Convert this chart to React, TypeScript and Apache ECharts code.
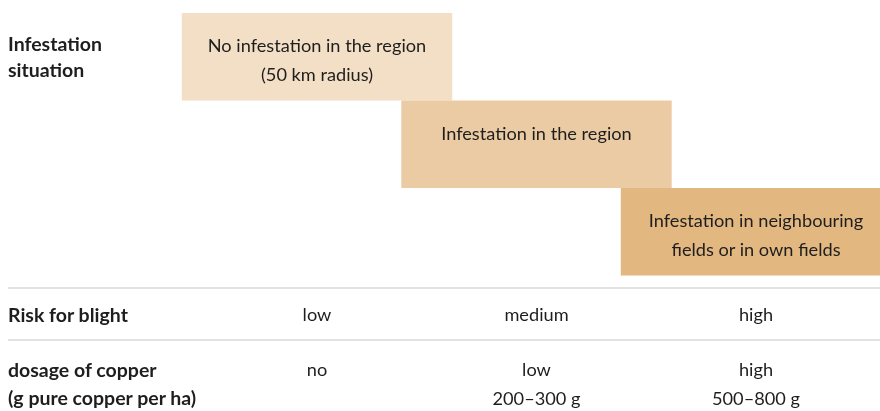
import React, { useEffect, useRef } from "react";
import * as echarts from "echarts";

// ---- data ----
const situationTitle = "Infestation\nsituation";
const situations = [
  "No infestation in the region\n(50 km radius)",
  "Infestation in the region",
  "Infestation in neighbouring\nfields or in own fields",
];
const boxColors = ["#F2DFC5", "#EBCBA3", "#E2B780"];
const rowLabels = ["Risk for blight", "dosage of copper\n(g pure copper per ha)"];
const riskValues = ["low", "medium", "high"];
const copperValues = ["no", "low\n200–300 g", "high\n500–800 g"];
const columns = ["stage1", "stage2", "stage3"];

const FONT = "Lato, 'Noto Sans', sans-serif";
const TEXT = "#1e1e1e";
const CELL_LH = 29;
const FS = 18.2;
const FS_BOLD = 19.5;

export default function App() {
  const ref = useRef<HTMLDivElement>(null);
  useEffect(() => {
    if (!ref.current) return;
    const chart = echarts.init(ref.current, undefined, { renderer: "svg" });
    const tableRows = [riskValues, copperValues];
    const rowLines = tableRows.map((r) => Math.max(...r.map((s) => s.split("\n").length)));
    const cellData: number[][] = [];
    tableRows.forEach((r, ri) => r.forEach((_, ci) => cellData.push([ci, ri])));

    const hiddenX = {
      type: "category" as const,
      data: columns,
      axisLine: { show: false },
      axisTick: { show: false },
      axisLabel: { show: false },
      splitLine: { show: false },
    };
    const gridLeft = 207.25;
    const gridRight = 14.25;

    chart.setOption({
      animation: false,
      grid: [
        { left: gridLeft, right: gridRight, top: 13, height: 262.5 },
        { left: gridLeft, right: gridRight, top: 314, height: 72.25 },
      ],
      xAxis: [
        { ...hiddenX, gridIndex: 0 },
        { ...hiddenX, gridIndex: 1 },
      ],
      yAxis: [
        {
          type: "category",
          gridIndex: 0,
          inverse: true,
          data: [situationTitle, "", ""],
          axisLine: { show: false },
          axisTick: { show: false },
          splitLine: { show: false },
          axisLabel: {
            align: "left",
            margin: gridLeft - 8,
            fontFamily: FONT,
            fontWeight: "bold",
            fontSize: FS_BOLD,
            lineHeight: 26,
            padding: [5, 0, 0, 0],
            color: TEXT,
          },
        },
        {
          type: "category",
          gridIndex: 1,
          inverse: true,
          boundaryGap: false,
          data: rowLabels,
          axisLine: { show: false },
          axisTick: { show: false },
          splitLine: { show: false },
          axisLabel: {
            align: "left",
            margin: gridLeft - 8,
            fontFamily: FONT,
            fontWeight: "bold",
            fontSize: FS_BOLD,
            lineHeight: 28,
            color: TEXT,
          },
        },
      ],
      graphic: [
        { type: "line", shape: { x1: 8, y1: 288, x2: 880, y2: 288 }, style: { stroke: "#d9d9d9", lineWidth: 1.5 } },
        { type: "line", shape: { x1: 8, y1: 340, x2: 880, y2: 340 }, style: { stroke: "#d9d9d9", lineWidth: 1.5 } },
      ],
      series: [
        {
          type: "custom",
          xAxisIndex: 0,
          yAxisIndex: 0,
          clip: false,
          data: situations.map((_, i) => [i, i]),
          renderItem: (params: any, api: any) => {
            const idx = params.dataIndex;
            const c = api.coord([api.value(0), api.value(1)]);
            const sz = api.size([1, 1]);
            const w = sz[0] * 1.232;
            const h = sz[1];
            const top = c[1] - h / 2;
            return {
              type: "group",
              children: [
                {
                  type: "rect",
                  shape: { x: c[0] - w / 2, y: top, width: w, height: h },
                  style: { fill: boxColors[idx] },
                },
                {
                  type: "text",
                  style: {
                    text: situations[idx],
                    x: c[0],
                    y: top + 32 - CELL_LH / 2,
                    align: "center",
                    verticalAlign: "top",
                    fontFamily: FONT,
                    fontSize: FS,
                    lineHeight: CELL_LH,
                    fill: TEXT,
                  },
                },
              ],
            };
          },
        },
        {
          type: "custom",
          xAxisIndex: 1,
          yAxisIndex: 1,
          clip: false,
          data: cellData,
          renderItem: (params: any, api: any) => {
            const ci = api.value(0);
            const ri = api.value(1);
            const c = api.coord([ci, ri]);
            const text = tableRows[ri][ci];
            return {
              type: "text",
              style: {
                text,
                x: c[0],
                y: c[1] - (rowLines[ri] * CELL_LH) / 2,
                align: "center",
                verticalAlign: "top",
                fontFamily: FONT,
                fontSize: FS,
                lineHeight: CELL_LH,
                fill: TEXT,
              },
            };
          },
        },
      ],
    });
    return () => chart.dispose();
  }, []);
  return <div ref={ref} style={{ position: "fixed", left: 0, top: 0, width: 880, height: 411 }} />;
}
